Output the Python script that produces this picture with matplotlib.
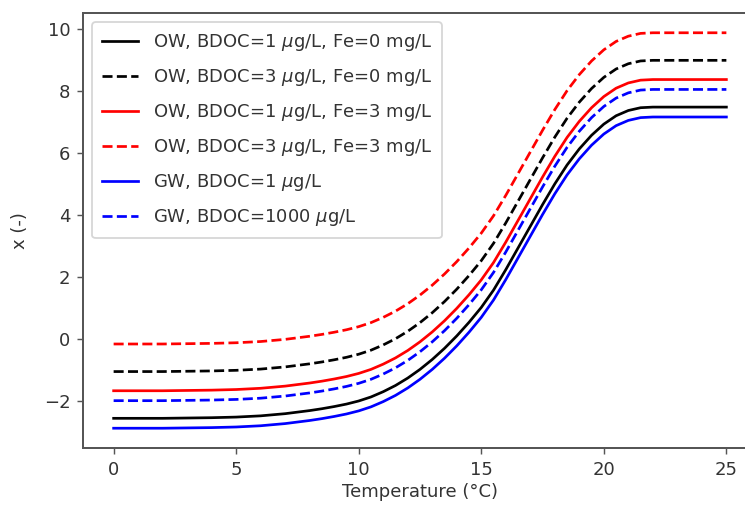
import matplotlib
matplotlib.use("Agg")
import matplotlib.pyplot as plt

temps = [0, 2, 4, 5, 6, 7, 8, 8.5, 9, 9.5, 10, 10.5, 11, 11.5, 12, 12.5, 13, 13.5, 14, 14.5,
         15, 15.5, 16, 16.5, 17, 17.5, 18, 18.5, 19, 19.5, 20, 20.5, 21, 21.5, 22, 25]

ow_b1_fe0 = [-2.57, -2.57, -2.55, -2.53, -2.49, -2.42, -2.32, -2.26, -2.19, -2.11, -2.01,
             -1.88, -1.71, -1.51, -1.27, -0.99, -0.67, -0.31, 0.09, 0.53, 1.01, 1.57,
             2.23, 2.93, 3.63, 4.33, 5.00, 5.61, 6.13, 6.57, 6.93, 7.20, 7.37, 7.46, 7.48, 7.48]
ow_b3_fe0 = [-1.06, -1.06, -1.04, -1.02, -0.98, -0.91, -0.81, -0.75, -0.68, -0.60, -0.50,
             -0.37, -0.20, 0.00, 0.24, 0.52, 0.84, 1.20, 1.60, 2.04, 2.52, 3.08,
             3.74, 4.44, 5.14, 5.84, 6.51, 7.12, 7.64, 8.08, 8.44, 8.71, 8.88, 8.97, 8.99, 8.99]
ow_b1_fe3 = [-1.68, -1.68, -1.66, -1.64, -1.60, -1.53, -1.43, -1.37, -1.30, -1.22, -1.12,
             -0.99, -0.82, -0.62, -0.38, -0.10, 0.22, 0.58, 0.98, 1.42, 1.90, 2.46,
             3.12, 3.82, 4.52, 5.22, 5.89, 6.50, 7.02, 7.46, 7.82, 8.09, 8.26, 8.35, 8.37, 8.37]
ow_b3_fe3 = [-0.17, -0.17, -0.15, -0.13, -0.09, -0.02, 0.08, 0.14, 0.21, 0.29, 0.39,
             0.52, 0.69, 0.89, 1.13, 1.41, 1.73, 2.09, 2.49, 2.93, 3.41, 3.97,
             4.63, 5.33, 6.03, 6.73, 7.40, 8.01, 8.53, 8.97, 9.33, 9.60, 9.77, 9.86, 9.88, 9.88]
gw_b1 = [-2.89, -2.89, -2.87, -2.85, -2.81, -2.74, -2.64, -2.58, -2.51, -2.43, -2.33,
         -2.20, -2.03, -1.83, -1.59, -1.31, -0.99, -0.63, -0.23, 0.21, 0.69, 1.25,
         1.91, 2.61, 3.31, 4.01, 4.68, 5.29, 5.81, 6.25, 6.61, 6.88, 7.05, 7.14, 7.16, 7.16]
gw_b1000 = [-2.00, -2.00, -1.98, -1.96, -1.92, -1.85, -1.75, -1.69, -1.62, -1.54, -1.44,
            -1.31, -1.14, -0.94, -0.70, -0.42, -0.10, 0.26, 0.66, 1.10, 1.58, 2.14,
            2.80, 3.50, 4.20, 4.90, 5.57, 6.18, 6.70, 7.14, 7.50, 7.77, 7.94, 8.03, 8.05, 8.05]

series = [
    (ow_b1_fe0, 'k', '-', r'OW, BDOC=1 $\mu$g/L, Fe=0 mg/L'),
    (ow_b3_fe0, 'k', '--', r'OW, BDOC=3 $\mu$g/L, Fe=0 mg/L'),
    (ow_b1_fe3, 'r', '-', r'OW, BDOC=1 $\mu$g/L, Fe=3 mg/L'),
    (ow_b3_fe3, 'r', '--', r'OW, BDOC=3 $\mu$g/L, Fe=3 mg/L'),
    (gw_b1, 'b', '-', r'GW, BDOC=1 $\mu$g/L'),
    (gw_b1000, 'b', '--', r'GW, BDOC=1000 $\mu$g/L'),
]

dpi = 130
fig = plt.figure(figsize=(745 / dpi, 514 / dpi), dpi=dpi)
ax = fig.add_axes([83 / 745, (514 - 448) / 514, (757 - 83) / 745, (448 - 13) / 514])

for vals, c, ls, lab in series:
    ax.plot(temps, vals, color=c, linestyle=ls, linewidth=1.5, label=lab)

ax.set_xlabel('Temperature (°C)', color='#333333', labelpad=2.5)
ax.set_ylabel('x (-)', color='#333333', labelpad=8)
ax.set_xticks([0, 5, 10, 15, 20, 25])
ax.set_yticks([-2, 0, 2, 4, 6, 8, 10])
for s in ax.spines.values():
    s.set_color('#555555')
    s.set_linewidth(1.1)
ax.tick_params(colors='#555555', labelcolor='#333333')
ax.legend(loc='upper left', labelcolor='#333333', labelspacing=0.78, borderpad=0.55)

fig.savefig('out.png', dpi=dpi)
